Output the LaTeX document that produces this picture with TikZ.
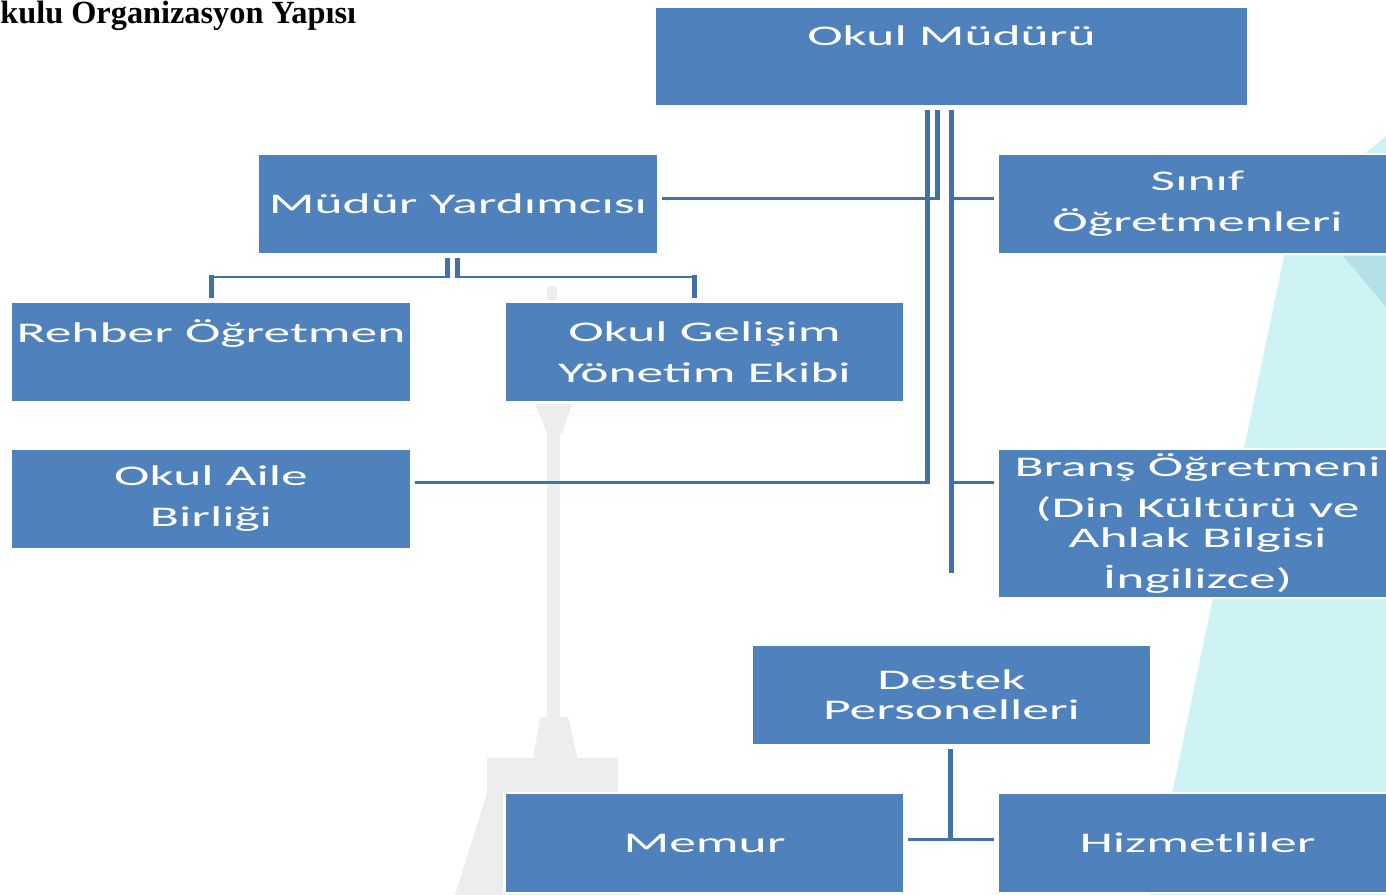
\documentclass[tikz,border=0pt]{standalone}
\usepackage{fontspec}
\usetikzlibrary{positioning,calc}
\newfontfamily\kutufont{Carlito}[FakeStretch=1.88]
\newfontfamily\baslikfont{Liberation Serif}
\definecolor{kutumavi}{HTML}{4F81BD}
\definecolor{cizgimavi}{HTML}{4270A8}
\definecolor{acikcam}{HTML}{CEF3F4}
\definecolor{koyucam}{HTML}{B3E1E7}
\definecolor{kulegri}{HTML}{EDEDED}
\tikzset{
	kutu/.style={draw=white, line width=1.6pt, fill=kutumavi, text=white, align=center,
		inner sep=0pt, outer sep=0.08cm, minimum width=8cm, minimum height=2cm,
		font=\kutufont\fontsize{16.2}{23.3}\selectfont},
	dikey/.style={draw=cizgimavi, line width=0.1cm},
	yatay/.style={draw=cizgimavi, line width=0.06cm},
}

\begin{document}
\begin{tikzpicture}
	\begin{scope}[x=0.02cm, y=-0.02cm]
		\clip (0,0) rectangle (1386,895);
		\fill[white] (0,0) rectangle (1386,895);

		% arka plan
		\fill[acikcam] (1386,136) -- (1362,156) -- (1302,170) -- (1151,895) -- (1386,895) -- cycle;
		\fill[koyucam] (1343,256) -- (1386,256) -- (1386,307) -- cycle;
		% kule
		\fill[kulegri] (547,286) rectangle (557,300);
		\fill[kulegri] (535,404) -- (572,404) -- (562,433) -- (547,433) -- cycle;
		\fill[kulegri] (547,430) rectangle (560,719);
		\fill[kulegri] (540,717) -- (568,717) -- (578,760) -- (533,760) -- cycle;
		\fill[kulegri] (487,758) rectangle (618,795);
		\fill[kulegri] (487,793) -- (620,793) -- (640,895) -- (455,895) -- cycle;

		\node[font=\baslikfont\fontsize{18.4}{20}\selectfont\bfseries, anchor=base west, inner sep=0pt] (baslik) at (0,24) {kulu Organizasyon Yapısı};

		\node[kutu, minimum width=11.86cm] (mudur) at (951.5,56.5) {Okul Müdürü\\~};
		\node[kutu] (yard) at (458,204) {Müdür Yardımcısı};
		\node[kutu] (sinif) at (1197.5,204) {Sınıf\\Öğretmenleri};
		\node[kutu] (rehber) at (211,352) {Rehber Öğretmen\\~};
		\node[kutu] (gelisim) at (704.5,352) {Okul Gelişim\\Yönetim Ekibi};
		\node[kutu] (aile) at (211,499) {Okul Aile\\Birliği};
		\node[kutu, minimum height=2.98cm] (brans) at (1197.5,523.5) {Branş Öğretmeni\\(Din Kültürü ve\\[-0.22cm]Ahlak Bilgisi\\İngilizce)};
		\node[kutu] (destek) at (951.5,695) {Destek\\[-0.22cm]Personelleri};
		\node[kutu] (memur) at (704.5,843) {Memur};
		\node[kutu] (hizmet) at (1197.5,843) {Hizmetliler};

		\coordinate (k1) at (937,199);
		\coordinate (k2) at (927,482);
		\coordinate (k3) at (951,573);
		\coordinate (k4) at (447,277);
		\coordinate (k5) at (457,277);
		\coordinate (k7) at (694,277);
		\coordinate (k6) at (950,839);

		\draw[dikey] (mudur.south -| k1) -- ($(k1)+(0,1.5)$);
		\draw[yatay] (k1) -- (k1 -| yard.east);
		\draw[dikey] (mudur.south -| k2) -- ($(k2)+(0,1.5)$);
		\draw[yatay] ($(k2)+(2.5,0)$) -- (k2 -| aile.east);
		\draw[dikey] (mudur.south -| k3) -- (k3);
		\draw[yatay] (k3 |- k1) -- (k1 -| sinif.west);
		\draw[yatay] (k3 |- k2) -- (k2 -| brans.west);

		\draw[dikey] (yard.south -| k4) -- ($(k4)+(0,1.5)$);
		\draw[yatay] ($(k4)+(2.5,0)$) -- (k4 -| rehber.north);
		\draw[dikey] ($(k4 -| rehber.north)+(0,-1.5)$) -- (rehber.north);
		\draw[dikey] (yard.south -| k5) -- ($(k5)+(0,1.5)$);
		\draw[yatay] ($(k5)+(-2.5,0)$) -- (k7);
		\draw[dikey] ($(k7)+(0,-1.5)$) -- (k7 |- gelisim.north);

		\draw[dikey] (destek.south -| k6) -- (k6);
		\draw[yatay] (k6 -| memur.east) -- (k6 -| hizmet.west);
	\end{scope}
\end{tikzpicture}
\end{document}
